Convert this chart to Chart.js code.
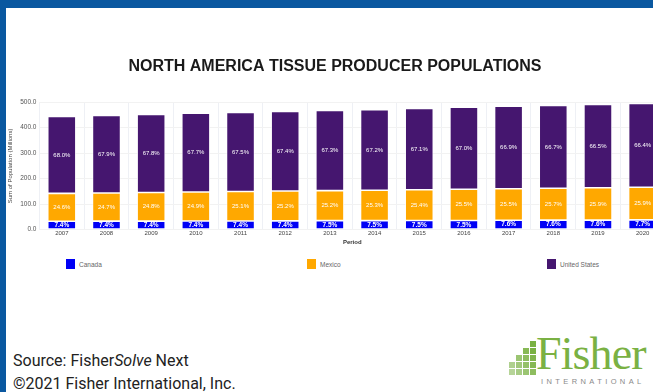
<!DOCTYPE html>
<html>
<head>
<meta charset="utf-8">
<script src="https://cdn.jsdelivr.net/npm/chart.js@4.4.1/dist/chart.umd.min.js"></script>
<style>
  html, body { margin: 0; padding: 0; width: 653px; height: 392px; overflow: hidden; background: #fff; }
  .edge-top { position: absolute; left: 0; top: 0; width: 653px; height: 8px; background: #0a58a0; }
  .edge-left { position: absolute; left: 0; top: 0; width: 6px; height: 392px; background: #0a58a0; }
  #chartBox { position: absolute; left: 5px; top: 40px; }
  #legend { position: absolute; left: 0; top: 259px; width: 653px; height: 12px; }
  .lg-item { position: absolute; top: 0; display: flex; align-items: center; font: 6.5px "Liberation Sans", Arial, sans-serif; color: #666; }
  .lg-box { width: 9px; height: 10px; margin-right: 4px; }
  .source { position: absolute; left: 13px; font: 16px Roboto, "Liberation Sans", sans-serif; color: #222; white-space: nowrap; }
  .logo-word { position: absolute; left: 536px; top: 327px; font: 46px "Liberation Serif", "DejaVu Serif", serif; color: #7ab143; letter-spacing: -0.9px; }
  .logo-sub { position: absolute; left: 541px; top: 377px; font: 7.5px "Liberation Sans", sans-serif; color: #8a8a8a; letter-spacing: 3.4px; }
  .logo-mark { position: absolute; left: 509px; top: 341px; width: 30px; height: 33px; }
  .logo-mark div { position: absolute; width: 6px; height: 6px; background: #7ab143; }
</style>
</head>
<body>
<div class="edge-top"></div>
<div class="edge-left"></div>

<div id="chartBox"><canvas id="chart" width="660" height="210"></canvas></div>
<div id="legend"></div>

<div class="source" style="top:351px">Source: Fisher<i>Solve</i> Next</div>
<div class="source" style="top:374px">©2021 Fisher International, Inc.</div>

<div class="logo-mark" id="mark"></div>
<div class="logo-word">Fisher</div>
<div class="logo-sub">INTERNATIONAL</div>

<script>
// Years on the category axis
const years = ['2007','2008','2009','2010','2011','2012','2013','2014','2015','2016','2017','2018','2019','2020'];

// Combined population of the three countries, millions
const totals = [444, 448, 452, 457, 460, 464, 468, 471, 475, 480, 484, 487, 491, 495];

// Each country's share of the total, percent
const canadaPct = [7.4, 7.4, 7.4, 7.4, 7.4, 7.4, 7.5, 7.5, 7.5, 7.5, 7.6, 7.6, 7.6, 7.7];
const mexicoPct = [24.6, 24.7, 24.8, 24.9, 25.1, 25.2, 25.2, 25.3, 25.4, 25.5, 25.5, 25.7, 25.9, 25.9];
const usPct     = [68.0, 67.9, 67.8, 67.7, 67.5, 67.4, 67.3, 67.2, 67.1, 67.0, 66.9, 66.7, 66.5, 66.4];

// Y axis ticks
const yTicks = [0, 100, 200, 300, 400, 500];

const seriesNames = ['Canada', 'Mexico', 'United States'];
const seriesColors = ['#0000f5', '#ffa800', '#45166f'];
const sharePct = [canadaPct, mexicoPct, usPct];

// Segment height in millions = total * share
const toMillions = pct => pct.map((p, i) => totals[i] * p / 100);

const FONT = '"Liberation Sans", Arial, sans-serif';

// Writes each segment's share in the middle of the segment
const shareLabels = {
  id: 'shareLabels',
  afterDatasetsDraw(chart) {
    const ctx = chart.ctx;
    ctx.save();
    ctx.textAlign = 'center';
    ctx.textBaseline = 'middle';
    chart.data.datasets.forEach((ds, d) => {
      const meta = chart.getDatasetMeta(d);
      ctx.font = (d === 0 ? 'bold 6.5px ' : '6px ') + FONT;
      ctx.fillStyle = '#ffffff';
      meta.data.forEach((el, i) => {
        const y = (el.y + el.base) / 2;
        ctx.fillText(ds.shares[i].toFixed(1) + '%', el.x, y);
      });
    });
    ctx.restore();
  }
};

const chart = new Chart(document.getElementById('chart'), {
  type: 'bar',
  data: {
    labels: years,
    datasets: seriesNames.map((name, k) => ({
      label: name,
      data: toMillions(sharePct[k]),
      shares: sharePct[k],
      backgroundColor: seriesColors[k],
      borderColor: '#ffffff',
      borderWidth: 0.8,
      borderSkipped: false,
      barPercentage: 0.7,
      categoryPercentage: 0.9
    }))
  },
  options: {
    responsive: false,
    animation: false,
    layout: { padding: { left: 0, right: 0, top: 0, bottom: 0 } },
    plugins: {
      legend: { display: false },
      tooltip: { enabled: false },
      title: {
        display: true,
        text: 'NORTH AMERICA TISSUE PRODUCER POPULATIONS',
        color: '#1a1a1a',
        font: { family: FONT, size: 16, weight: 'bold' },
        padding: { top: 17, bottom: 26 }
      }
    },
    scales: {
      x: {
        stacked: true,
        grid: { color: '#eef0f5', drawTicks: false, offset: true },
        border: { display: false },
        ticks: { color: '#444', font: { family: FONT, size: 6 }, padding: 0, maxRotation: 0 },
        title: { display: true, text: 'Period', color: '#333', font: { family: FONT, size: 6, weight: 'bold' }, padding: { top: 2, bottom: 4 } }
      },
      y: {
        stacked: true,
        min: 0,
        max: 500,
        afterBuildTicks: axis => { axis.ticks = yTicks.map(v => ({ value: v })); },
        grid: { color: '#f2f2f2', drawTicks: false },
        border: { display: false },
        ticks: { color: '#555', font: { family: FONT, size: 6.5 }, padding: 3, callback: v => Number(v).toFixed(1) },
        title: { display: true, text: 'Sum of Population (Millions)', color: '#444', font: { family: FONT, size: 6 }, padding: { top: 2, bottom: 3 } }
      }
    }
  },
  plugins: [shareLabels]
});

// Legend spread across the row under the chart, built from the datasets
const legendX = [66, 307, 547];
const legendEl = document.getElementById('legend');
chart.data.datasets.forEach((ds, i) => {
  const item = document.createElement('div');
  item.className = 'lg-item';
  item.style.left = legendX[i] + 'px';
  const box = document.createElement('span');
  box.className = 'lg-box';
  box.style.background = ds.backgroundColor;
  const txt = document.createElement('span');
  txt.textContent = ds.label;
  item.appendChild(box);
  item.appendChild(txt);
  legendEl.appendChild(item);
});

// Stepped block mark beside the company name
const mark = document.getElementById('mark');
const columns = [[3, 4], [2, 3, 4], [1, 2, 3, 4], [0, 1, 2, 3, 4]];
columns.forEach((rows, c) => {
  rows.forEach(r => {
    const b = document.createElement('div');
    b.style.left = (c * 7) + 'px';
    b.style.top = (r * 7) + 'px';
    b.style.opacity = (0.55 + 0.1 * c + 0.05 * (4 - r)).toFixed(2);
    mark.appendChild(b);
  });
});
</script>
</body>
</html>
